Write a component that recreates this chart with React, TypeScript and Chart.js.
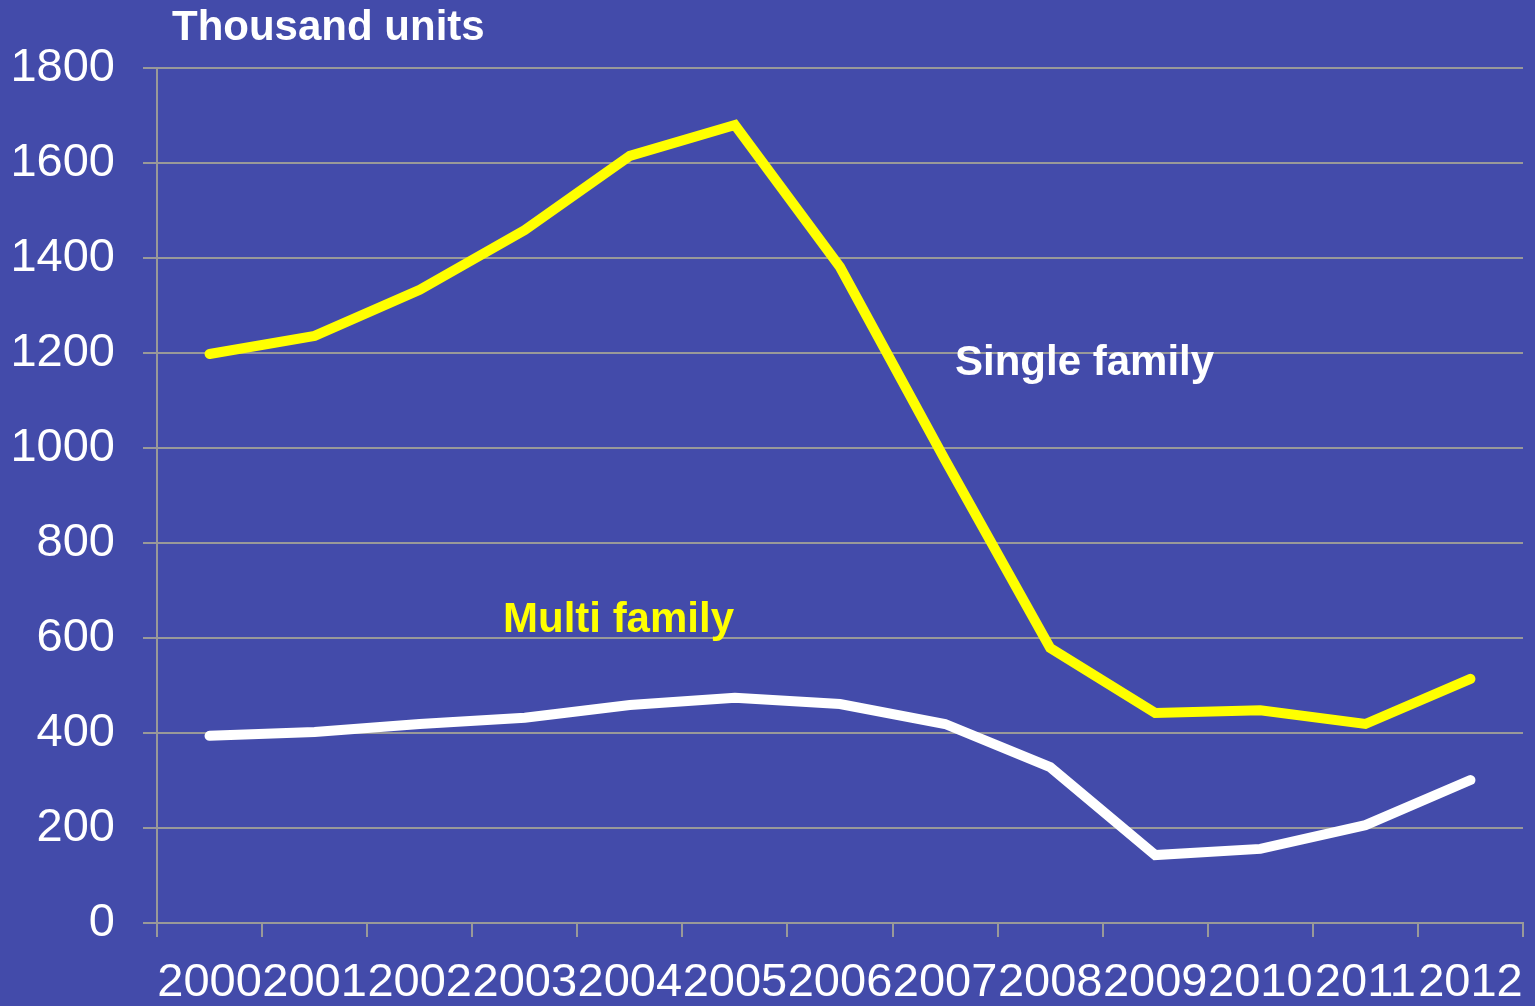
import React, { useEffect, useRef } from "react";
import { Chart, registerables } from "chart.js";

Chart.register(...registerables);

const years = ["2000", "2001", "2002", "2003", "2004", "2005", "2006", "2007", "2008", "2009", "2010", "2011", "2012"];
const yellowSeries = [1198, 1236, 1333, 1459, 1615, 1680, 1381, 975, 579, 442, 448, 419, 514];
const whiteSeries = [394, 402, 419, 432, 459, 474, 461, 419, 328, 143, 156, 206, 301];
const yTicks = [0, 200, 400, 600, 800, 1000, 1200, 1400, 1600, 1800];

const BG = "#434BAA";
const GRID = "#999999";
const FONT = "'Liberation Sans', Arial, sans-serif";

const textPlugin = {
  id: "texts",
  beforeDraw(chart: any) {
    const { ctx, width, height } = chart;
    ctx.save();
    ctx.fillStyle = BG;
    ctx.fillRect(0, 0, width, height);
    ctx.restore();
  },
  afterDraw(chart: any) {
    const { ctx } = chart;
    ctx.save();
    ctx.font = `bold 42px ${FONT}`;
    ctx.textBaseline = "middle";
    ctx.textAlign = "left";
    ctx.fillStyle = "#FFFFFF";
    ctx.fillText("Thousand units", 172, 28);
    ctx.fillText("Single family", 955, 363);
    ctx.fillStyle = "#FFFF00";
    ctx.fillText("Multi family", 503, 620);
    ctx.restore();
  },
};

export default function App() {
  const ref = useRef<HTMLCanvasElement>(null);
  useEffect(() => {
    document.body.style.margin = "0";
    const chart = new Chart(ref.current!, {
      type: "line",
      data: {
        labels: years,
        datasets: [
          {
            data: yellowSeries,
            borderColor: "#FFFF00",
            borderWidth: 10,
            pointRadius: 0,
            borderCapStyle: "round",
            tension: 0,
          },
          {
            data: whiteSeries,
            borderColor: "#FFFFFF",
            borderWidth: 10,
            pointRadius: 0,
            borderCapStyle: "round",
            tension: 0,
          },
        ],
      },
      options: {
        responsive: false,
        animation: false,
        layout: { padding: { top: 68, right: 12, left: 0, bottom: 0 } },
        plugins: { legend: { display: false }, tooltip: { enabled: false } },
        scales: {
          x: {
            offset: true,
            grid: {
              offset: true,
              drawOnChartArea: false,
              drawTicks: true,
              tickLength: 14,
              color: GRID,
              lineWidth: 2,
            },
            border: { color: GRID, width: 2 },
            ticks: {
              color: "#FFFFFF",
              font: { family: FONT, size: 47 },
              autoSkip: false,
              maxRotation: 0,
              minRotation: 0,
              padding: 18,
            },
            afterFit(scale: any) {
              scale.height = 83;
              scale.paddingLeft = 0;
              scale.paddingRight = 0;
            },
          },
          y: {
            min: 0,
            max: 1800,
            afterBuildTicks(scale: any) {
              scale.ticks = yTicks.map((v) => ({ value: v }));
            },
            grid: { color: GRID, lineWidth: 2, tickLength: 14 },
            border: { color: GRID, width: 2 },
            ticks: {
              color: "#FFFFFF",
              font: { family: FONT, size: 47 },
              padding: 28,
              callback: (v: any) => String(v),
            },
            afterFit(scale: any) {
              scale.width = 157;
              scale.paddingTop = 0;
              scale.paddingBottom = 0;
            },
          },
        },
      },
      plugins: [textPlugin],
    } as any);
    return () => chart.destroy();
  }, []);
  return <canvas ref={ref} width={1535} height={1006} style={{ display: "block" }} />;
}
